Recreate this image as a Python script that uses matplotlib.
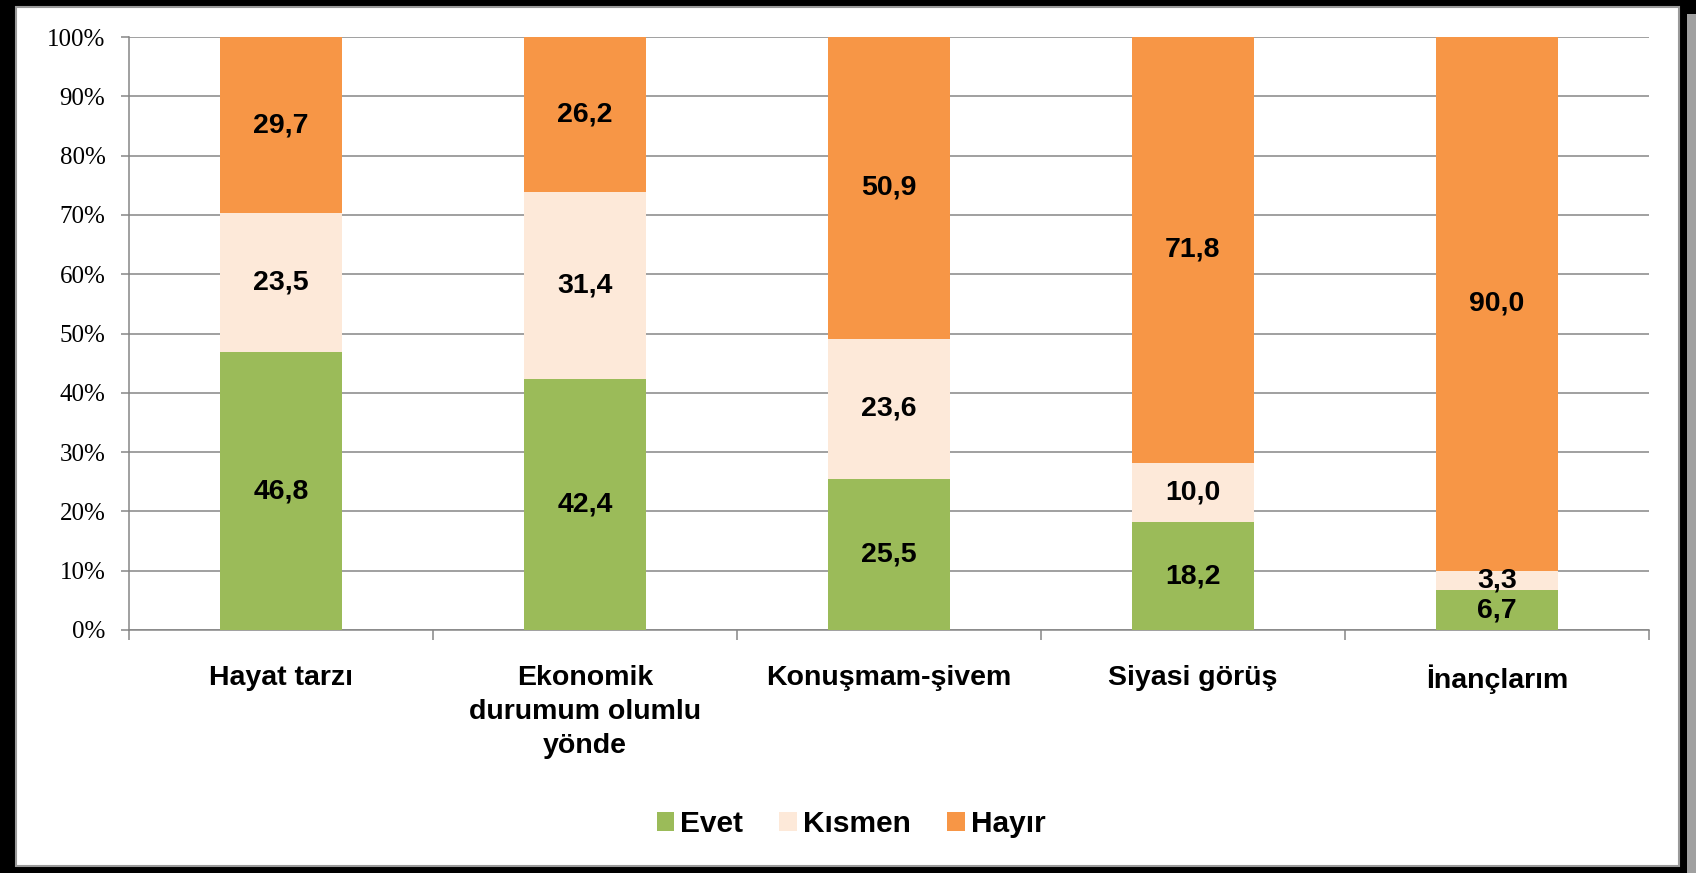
import numpy as np
import matplotlib.pyplot as plt
from matplotlib.patches import Rectangle

# === Data ===
categories = ['Hayat tarzı', 'Ekonomik\ndurumum olumlu\nyönde', 'Konuşmam-şivem',
              'Siyasi görüş', 'İnançlarım']
evet = [46.8, 42.4, 25.5, 18.2, 6.7]
kismen = [23.5, 31.4, 23.6, 10.0, 3.3]
hayir = [29.7, 26.2, 50.9, 71.8, 90.0]
series_names = ['Evet', 'Kısmen', 'Hayır']
y_ticks = [0, 10, 20, 30, 40, 50, 60, 70, 80, 90, 100]

colors = ['#9BBB59', '#FDE9D9', '#F79646']
grid_col = '#868686'

fig = plt.figure(figsize=(16.96, 8.73), dpi=100)
fig.patch.set_facecolor('black')

# white panel with thin gray edge, shadow at the right
W, H = 1696, 873
fig.patches.append(Rectangle((1687 / W, 0), 9 / W, 1 - 14 / H, transform=fig.transFigure,
                             facecolor='#a0a0a0', edgecolor='none', zorder=-2))
fig.patches.append(Rectangle((16 / W, 7 / H), (1679 - 16) / W, (866 - 7) / H,
                             transform=fig.transFigure, facecolor='white',
                             edgecolor='#9a9a9a', linewidth=1.5, zorder=-1))

ax = fig.add_axes([129 / W, 1 - 630 / H, (1649 - 129) / W, (630 - 37) / H])
ax.set_zorder(2)
ax.set_facecolor('none')

x = np.arange(len(categories))
bw = 0.40
bottom = np.zeros(len(categories))
for vals, name, c in zip([evet, kismen, hayir], series_names, colors):
    bars = ax.bar(x, vals, bw, bottom=bottom, color=c, label=name, zorder=3)
    for xi, b, v in zip(x, bottom, vals):
        ax.text(xi, b + v / 2, f'{v:.1f}'.replace('.', ','), ha='center', va='center',
                fontsize=20.5, fontweight='bold', family='Liberation Sans', zorder=4)
    bottom += np.array(vals)

ax.set_xlim(-0.5, len(categories) - 0.5)
ax.set_ylim(0, 100)
ax.set_yticks(y_ticks)
ax.set_yticklabels([f'{t}%' for t in y_ticks], family='Liberation Serif', fontsize=18)
ax.yaxis.grid(True, color=grid_col, linewidth=1.1, zorder=0)
ax.set_axisbelow(True)

ax.set_xticks(x)
ax.set_xticklabels(categories, fontsize=20.5, fontweight='bold', family='Liberation Sans',
                   va='top', linespacing=1.4)
ax.set_xticks(np.arange(-0.5, len(categories)), minor=True)
ax.tick_params(axis='x', which='major', length=0, pad=25)
ax.tick_params(axis='x', which='minor', length=7, color=grid_col, width=1.1)
ax.tick_params(axis='y', length=6, color=grid_col, width=1.1, pad=11)

for s in ['top', 'right']:
    ax.spines[s].set_visible(False)
for s in ['left', 'bottom']:
    ax.spines[s].set_color(grid_col)
    ax.spines[s].set_linewidth(1.1)

leg = fig.legend(loc='center', bbox_to_anchor=(851 / W, 1 - 824 / H), ncol=3, frameon=False,
                 prop={'family': 'Liberation Sans', 'weight': 'bold', 'size': 21.5},
                 handlelength=0.6, handleheight=0.6, handletextpad=0.2, columnspacing=1.2)

fig.savefig('out.png', dpi=100, facecolor=fig.get_facecolor())
